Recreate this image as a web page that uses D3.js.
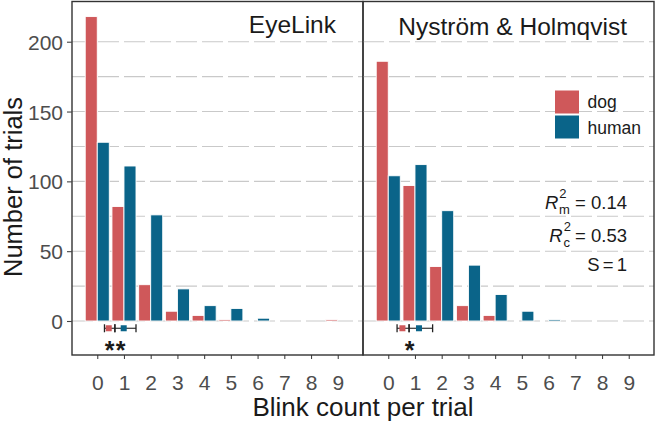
<!DOCTYPE html>
<html>
<head>
<meta charset="utf-8">
<script src="https://cdn.jsdelivr.net/npm/d3@7"></script>
<style>
  html, body { margin: 0; padding: 0; background: #fff; }
  svg { display: block; font-family: "Liberation Sans", Arial, sans-serif; }
</style>
</head>
<body>
<svg id="chart" width="656" height="425"></svg>
<script>
// ---- data ----
const blinkCounts = [0, 1, 2, 3, 4, 5, 6, 7, 8, 9];
const panelNames = ["EyeLink", "Nyström & Holmqvist"];
const eyelinkDog   = [218, 82, 26, 7, 4, 1, 0, 0, 0, 1];
const eyelinkHuman = [128, 111, 76, 23, 11, 9, 2, 0, 0, 0];
const nhDog        = [186, 97, 39, 11, 4, 0, 0, 0, 0, 0];
const nhHuman      = [104, 112, 79, 40, 19, 7, 1, 0, 0, 0];
const groups = ["dog", "human"];
// estimated means and CIs (blink count) per panel: [dog, human]
const estMean = [[0.43, 0.99], [0.53, 1.15]];
const estLow  = [[0.27, 0.66], [0.33, 0.78]];
const estHigh = [[0.66, 1.45], [0.78, 1.66]];
const signif  = ["**", "*"];
const yTicks  = [0, 50, 100, 150, 200];
const yGrid   = [0, 25, 50, 75, 100, 125, 150, 175, 200];
const statLines = [
  { sup: "2", sub: "m", val: "0.14" },
  { sup: "2", sub: "c", val: "0.53" }
];
const sLabel = "S = 1";

const colors = { dog: "#cf585a", human: "#0a6489" };
const panelData = [
  { dog: eyelinkDog, human: eyelinkHuman },
  { dog: nhDog, human: nhHuman }
];

// ---- layout ----
const svg = d3.select("#chart");
svg.append("rect").attr("width", 656).attr("height", 425).attr("fill", "#fff");

const panelLeft = 72, panelW = 291, panelTop = 1.5, panelBottom = 355;
const y = d3.scaleLinear().domain([-24.35, 228.8]).range([panelBottom, panelTop]);
const barHalf = 0.45;

panelNames.forEach((name, pi) => {
  const x0 = panelLeft + pi * panelW;
  const x = d3.scaleLinear().domain([-0.945, 9.945]).range([x0, x0 + panelW]);
  const g = svg.append("g");

  // grid
  g.selectAll("line.grid").data(yGrid).enter().append("line")
    .attr("x1", x0).attr("x2", x0 + panelW)
    .attr("y1", d => y(d)).attr("y2", d => y(d))
    .attr("stroke", "#c9c9c9").attr("stroke-width", 1.1)
    .attr("stroke-dasharray", "21,5");

  // bars
  const rows = [];
  blinkCounts.forEach((c, i) => {
    groups.forEach((grp, gi) => {
      rows.push({ c, grp, gi, v: panelData[pi][grp][i] });
    });
  });
  g.selectAll("rect.bar").data(rows.filter(r => r.v > 0)).enter().append("rect")
    .attr("x", d => x(d.c - barHalf + d.gi * barHalf))
    .attr("width", d => x(barHalf) - x(0))
    .attr("y", d => y(d.v))
    .attr("height", d => y(0) - y(d.v))
    .attr("fill", d => colors[d.grp])
    .attr("stroke", "#fff").attr("stroke-width", 0.9);

  // estimate error bars
  const ey = y(-5.2);
  groups.forEach((grp, gi) => {
    const lo = estLow[pi][gi], hi = estHigh[pi][gi], m = estMean[pi][gi];
    g.append("line").attr("x1", x(lo)).attr("x2", x(hi)).attr("y1", ey).attr("y2", ey)
      .attr("stroke", "#222").attr("stroke-width", 1.1);
    [lo, hi].forEach(v => {
      g.append("line").attr("x1", x(v)).attr("x2", x(v)).attr("y1", ey - 4).attr("y2", ey + 4)
        .attr("stroke", "#222").attr("stroke-width", 1.3);
    });
    g.append("rect").attr("x", x(m) - 3).attr("y", ey - 3).attr("width", 6).attr("height", 6)
      .attr("fill", colors[grp]);
  });
  g.append("text")
    .attr("x", x(estLow[pi][1]) + (pi === 0 ? 0.8 : 0.5))
    .attr("y", y(-17.2) + 14)
    .attr("text-anchor", "middle")
    .attr("font-size", 25).attr("font-weight", "bold")
    .attr("letter-spacing", pi === 0 ? 1.2 : 0)
    .attr("fill", "#1a1a1a")
    .text(signif[pi]);

  // panel title
  g.append("text")
    .attr("x", x0 + panelW - 27).attr("y", pi === 0 ? 33 : 35)
    .attr("text-anchor", "end")
    .attr("font-size", 24.5).attr("fill", "#1a1a1a")
    .text(name);

  // x axis
  const xAxis = d3.axisBottom(x).tickValues(blinkCounts).tickSize(4).tickPadding(31).tickFormat(d3.format("d"));
  const ax = svg.append("g").attr("transform", `translate(0,${panelBottom})`).call(xAxis);
  ax.select(".domain").remove();
  ax.selectAll(".tick line").attr("stroke", "#444").attr("stroke-width", 1.1);
  ax.selectAll(".tick text").attr("font-size", 21).attr("fill", "#4d4d4d")
    .attr("font-family", "Liberation Sans, Arial, sans-serif").attr("dy", "0");

  // panel border
  svg.append("rect").attr("x", x0).attr("y", panelTop).attr("width", panelW)
    .attr("height", panelBottom - panelTop)
    .attr("fill", "none").attr("stroke", "#333").attr("stroke-width", 1.4);
});

// y axis
const yAxis = d3.axisLeft(y).tickValues(yTicks).tickSize(5).tickPadding(4).tickFormat(d3.format("d"));
const ay = svg.append("g").attr("transform", `translate(${panelLeft},0)`).call(yAxis);
ay.select(".domain").remove();
ay.selectAll(".tick line").attr("stroke", "#444").attr("stroke-width", 1.1);
ay.selectAll(".tick text").attr("font-size", 21).attr("fill", "#4d4d4d")
  .attr("font-family", "Liberation Sans, Arial, sans-serif").attr("dy", "0.36em");

// legend (inside right panel)
const lg = svg.append("g");
groups.forEach((grp, i) => {
  lg.append("rect").attr("x", 555).attr("y", 90.5 + i * 25).attr("width", 24).attr("height", 23)
    .attr("fill", colors[grp]);
  lg.append("text").attr("x", 587.5).attr("y", 108 + i * 26)
    .attr("font-size", 17.5).attr("fill", "#1a1a1a").text(grp);
});

// model statistics
statLines.forEach((s, i) => {
  const t = svg.append("text").attr("x", 627).attr("y", 208.5 + i * 33)
    .attr("text-anchor", "end").attr("font-size", 18.5).attr("fill", "#1a1a1a");
  t.append("tspan").attr("font-style", "italic").text("R");
  t.append("tspan").attr("font-size", 13).attr("dy", -10.5).attr("dx", 1).text(s.sup);
  t.append("tspan").attr("font-size", 13).attr("dy", 15.5).attr("dx", -7.5).text(s.sub);
  t.append("tspan").attr("dy", -5).text(" = " + s.val);
});
svg.append("text").attr("x", 627).attr("y", 271)
  .attr("text-anchor", "end").attr("font-size", 18.5).attr("fill", "#1a1a1a")
  .attr("word-spacing", -2).text(sLabel);

// axis titles
svg.append("text").attr("x", 363).attr("y", 416).attr("text-anchor", "middle")
  .attr("font-size", 26).attr("fill", "#1a1a1a").text("Blink count per trial");
svg.append("text").attr("transform", "translate(22,187) rotate(-90)").attr("text-anchor", "middle")
  .attr("font-size", 25.5).attr("fill", "#1a1a1a").text("Number of trials");
</script>
</body>
</html>
